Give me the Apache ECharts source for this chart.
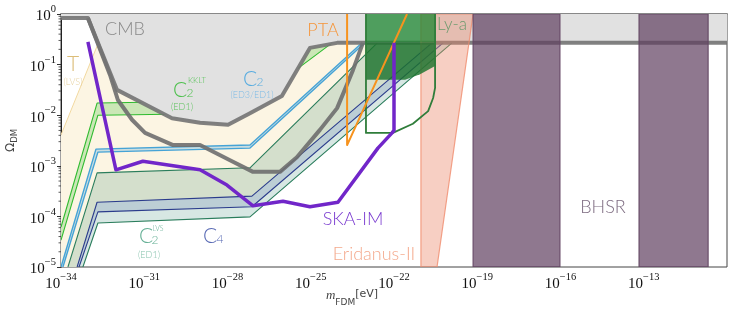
<!DOCTYPE html>
<html><head><meta charset="utf-8">
<script src="https://cdn.jsdelivr.net/npm/echarts@6/dist/echarts.min.js"></script>
<style>html,body{margin:0;padding:0;background:#fff}#c{width:747px;height:318px}</style>
</head><body><div id="c"></div>
<script>
// All points are [log10(m_FDM / eV), log10(Omega_DM)]; the axes are drawn in decades.
const xTicks = [-34, -31, -28, -25, -22, -19, -16, -13, -10];
const yTicks = [-5, -4, -3, -2, -1, 0];

const cmbEdge = [[-34,-0.08],[-33.03,-0.08],[-31.98,-1.50],[-30.0,-2.06],[-28.99,-2.15],[-27.98,-2.19],[-27.19,-1.96],[-26.04,-1.62],[-25.03,-0.67],[-24.05,-0.57],[-10,-0.57]];
const cmbLower = [[-33.03,-0.08],[-32.23,-1.21],[-31.95,-1.70],[-31.44,-2.09],[-30.97,-2.35],[-29.96,-2.59],[-28.99,-2.59],[-27.91,-2.89],[-27.08,-3.12],[-26.11,-3.12],[-25.50,-2.83],[-24.67,-2.29],[-24.05,-1.86],[-23.48,-1.11],[-23.12,-0.57]];
const tLvsLine = [[-34,-2.39],[-32.66,-0.58]];

const kkltUpper = [[-34,-4.21],[-32.70,-1.76],[-28.09,-1.72],[-24.85,-0.57]];
const kkltLower = [[-34,-4.47],[-32.67,-2.00],[-27.62,-1.96],[-24.23,-0.57]];
const c2Upper = [[-34,-5.0],[-32.74,-2.67],[-27.19,-2.59],[-23.15,-0.57]];
const c2Lower = [[-33.93,-5.0],[-32.67,-2.73],[-27.19,-2.65],[-23.05,-0.57]];
const lvsUpper = [[-33.75,-5],[-32.70,-3.14],[-27.19,-3.04],[-22.6,-0.57]];
const c4Upper = [[-33.42,-5],[-32.70,-3.72],[-27.12,-3.60],[-20.63,-0.57]];
const c4Lower = [[-33.35,-5],[-32.67,-3.91],[-27.12,-3.81],[-20.23,-0.57]];
const lvsLower = [[-33.21,-5],[-32.67,-4.13],[-27.19,-4.01],[-19.91,-0.57]];

const skaIm = [[-33.03,-0.55],[-32.02,-3.08],[-31.05,-2.91],[-28.99,-3.08],[-28.02,-3.38],[-27.08,-3.79],[-26.0,-3.70],[-25.03,-3.81],[-24.02,-3.72],[-22.58,-2.65],[-22.07,-2.35],[-22.0,-2.30],[-22.0,-0.57]];
const pta = [[-23.69,0],[-23.69,-2.59],[-21.53,0]];
const lyaOutline = [[-23.01,0],[-23.01,-2.35],[-22.04,-2.35],[-21.32,-2.17],[-20.77,-1.92],[-20.59,-1.66],[-20.52,-1.46],[-20.52,0]];
const lyaFillTop = [[-23.01,0],[-23.01,-0.57],[-20.52,-0.57],[-20.52,0]];
const lyaFillLow = [[-23.01,-0.57],[-23.01,-1.30],[-21.60,-1.30],[-21.06,-1.19],[-20.52,-1.03],[-20.52,-0.57]];
const eridanus = [[-21.03,0],[-19.15,0],[-20.45,-5],[-21.03,-5]];
const bhsr1 = [[-19.15,0],[-16.02,0],[-16.02,-5],[-19.15,-5]];
const bhsr2 = [[-13.17,0],[-10.68,0],[-10.68,-5],[-13.17,-5]];

function shape(name, pts, kind, style, z) {
  return {
    name: name, type: 'custom', coordinateSystem: 'cartesian2d', z: z, silent: true, clip: true,
    data: [pts[0]],
    renderItem: function (params, api) {
      return { type: kind, shape: { points: pts.map(p => api.coord(p)) }, style: style };
    }
  };
}
const band = (u, l) => u.concat(l.slice().reverse());
const line = (stroke, w, extra) => Object.assign({ fill: null, stroke: stroke, lineWidth: w, lineJoin: 'round' }, extra || {});

const creamPoly = [tLvsLine[0], tLvsLine[1]].concat(cmbEdge.slice(2, 10)).concat([[-20.63,-0.57],[-27.12,-3.60],[-32.70,-3.72],[-33.42,-5],[-34,-5]]);
const cmbPoly = cmbEdge.concat([[-10,0],[-34,0]]);

const minorY = [];
for (let e = -5; e < 0; e++) for (let k = 2; k <= 9; k++) minorY.push([-34, e + Math.log10(k)]);

const supFmt = v => { const e = Math.round(v); return '{b|10}{s|' + (e < 0 ? '\u2212' : '') + Math.abs(e) + '}'; };
const tickRich = {
  b: { fontFamily: 'Liberation Serif', fontSize: 15, color: '#111', lineHeight: 20, verticalAlign: 'bottom' },
  s: { fontFamily: 'Liberation Serif', fontSize: 10.5, color: '#111', lineHeight: 11, verticalAlign: 'top' }
};

const series = [
  shape('T (LVS)', creamPoly, 'polygon', { fill: '#fcf5e3' }, 1),
  shape('C2 LVS fill', band(lvsUpper, lvsLower), 'polygon', { fill: 'rgba(40,125,105,0.19)' }, 2),
  shape('C4 fill', band(c4Upper, c4Lower), 'polygon', { fill: 'rgba(50,75,140,0.16)' }, 2),
  shape('C2 fill', band(c2Upper, c2Lower), 'polygon', { fill: 'rgba(90,170,220,0.3)' }, 2),
  shape('KKLT fill', band(kkltUpper, kkltLower), 'polygon', { fill: 'rgba(90,200,80,0.3)' }, 2),
  shape('T line', tLvsLine, 'polyline', line('#f2d9a0', 1), 3),
  shape('lvsU', lvsUpper, 'polyline', line('#2a7d5c', 1.1), 3),
  shape('lvsL', lvsLower, 'polyline', line('#2a7d5c', 1.1), 3),
  shape('c4U', c4Upper, 'polyline', line('#2b3c8c', 1.1), 3),
  shape('c4L', c4Lower, 'polyline', line('#2b3c8c', 1.1), 3),
  shape('c2U', c2Upper, 'polyline', line('#45a3d6', 1.4), 3),
  shape('c2L', c2Lower, 'polyline', line('#45a3d6', 1.4), 3),
  shape('kkltU', kkltUpper, 'polyline', line('#2fbb2f', 1.1), 3),
  shape('kkltL', kkltLower, 'polyline', line('#2fbb2f', 1.1), 3),
  shape('CMB', cmbPoly, 'polygon', { fill: '#e1e1e1' }, 4),
  shape('CMB lower', cmbLower, 'polyline', line('rgba(110,110,110,0.9)', 4), 5),
  shape('CMB edge', cmbEdge, 'polyline', line('rgba(115,115,115,0.9)', 4), 5),
  shape('Eridanus-II', eridanus, 'polygon', { fill: 'rgba(235,135,105,0.4)', stroke: 'rgba(240,140,110,0.8)', lineWidth: 1.2 }, 6),
  shape('Ly-a fill', lyaFillTop, 'polygon', { fill: 'rgba(30,135,50,0.75)' }, 6),
  shape('Ly-a fill low', lyaFillLow, 'polygon', { fill: 'rgba(28,115,45,0.82)' }, 6),
  shape('BHSR1', bhsr1, 'polygon', { fill: 'rgba(95,62,95,0.7)', stroke: 'rgba(100,70,100,0.9)', lineWidth: 1.2 }, 6),
  shape('BHSR2', bhsr2, 'polygon', { fill: 'rgba(95,62,95,0.7)', stroke: 'rgba(100,70,100,0.9)', lineWidth: 1.2 }, 6),
  shape('Ly-a outline', lyaOutline, 'polyline', line('#2f7d3a', 1.8), 7),
  shape('PTA', pta, 'polyline', line('#f7931e', 2), 7),
  shape('SKA-IM', skaIm, 'polyline', line('#7126c9', 3.5), 8),
  {
    type: 'custom', name: 'yminor', coordinateSystem: 'cartesian2d', z: 9, silent: true, clip: false,
    data: minorY,
    renderItem: function (params, api) {
      const c = api.coord([api.value(0), api.value(1)]);
      return { type: 'line', shape: { x1: c[0] - 2.5, y1: c[1], x2: c[0], y2: c[1] }, style: { stroke: '#333', lineWidth: 0.8 } };
    }
  }
];

const T = (x, y, text, size, color, weight) => ({
  type: 'text', x: x, y: y, z: 100, silent: true,
  style: { text: text, fill: color, font: (weight || 300) + ' ' + size + 'px Lato', textAlign: 'center', textVerticalAlign: 'middle', align: 'center', verticalAlign: 'middle' }
});

const texts = [
  T(125, 29, 'CMB', 18, '#8a8a8a'),
  T(73, 64, 'T', 21, '#dcbd78'),
  T(73, 82, '(LVS)', 9, '#e6cf9a'),
  T(180, 90, 'C', 21, '#4dc04d'), T(190, 93, '2', 12, '#4dc04d'), T(197, 80, 'KKLT', 8, '#4dc04d'), T(182, 107, '(ED1)', 9, '#5cc25c'),
  T(250, 79, 'C', 21, '#58ace0'), T(260, 82, '2', 12, '#58ace0'), T(252, 95, '(ED3/ED1)', 9, '#7dbbe6'),
  T(323, 30, 'PTA', 18, '#f5953a'),
  T(452, 25, 'Ly-a', 17, '#6e9a6e'),
  T(353, 219, 'SKA-IM', 18, '#7a3bd0'),
  T(374, 254, 'Eridanus-II', 18, '#f4a98c'),
  T(603, 207, 'BHSR', 18, '#7d6b80'),
  T(146, 236, 'C', 21, '#66b096'), T(155, 240, '2', 12, '#66b096'), T(158, 229, 'LVS', 7, '#66b096'), T(149, 255, '(ED1)', 9, '#86c2ac'),
  T(210, 236, 'C', 21, '#5a6bb5'), T(220, 239, '4', 12, '#5a6bb5'),
  {
    type: 'text', x: 352, y: 298, z: 100, silent: true,
    style: {
      text: '{i|m}{s|FDM}{n|[eV]}', textAlign: 'center', textVerticalAlign: 'middle', align: 'center', verticalAlign: 'middle',
      rich: {
        i: { fontFamily: 'Liberation Serif', fontStyle: 'italic', fontSize: 13, fill: '#444', color: '#444', lineHeight: 18, verticalAlign: 'top' },
        s: { fontFamily: 'DejaVu Sans', fontSize: 9, fill: '#444', color: '#444', lineHeight: 11, verticalAlign: 'bottom' },
        n: { fontFamily: 'DejaVu Sans', fontSize: 11, fill: '#444', color: '#444', lineHeight: 18, verticalAlign: 'top' }
      }
    }
  }
];

const chart = echarts.init(document.getElementById('c'), null, { renderer: 'canvas' });
chart.setOption({
  animation: false,
  grid: { left: 61, right: 20, top: 14, bottom: 51, show: true, borderColor: '#444', borderWidth: 1, backgroundColor: 'transparent', containLabel: false, outerBoundsMode: 'none' },
  xAxis: {
    type: 'value', min: xTicks[0], max: xTicks[xTicks.length - 1], interval: 3,
    axisLine: { lineStyle: { color: '#888', width: 2 } },
    axisTick: { length: 4, lineStyle: { color: '#333' } },
    splitLine: { show: false },
    axisLabel: { formatter: supFmt, rich: tickRich, margin: 5, showMaxLabel: false }
  },
  yAxis: {
    type: 'value', min: yTicks[0], max: yTicks[yTicks.length - 1], interval: 1,
    axisLine: { lineStyle: { color: '#222', width: 1 } },
    axisTick: { length: 4, lineStyle: { color: '#333' } },
    splitLine: { show: false },
    axisLabel: { formatter: supFmt, rich: tickRich, margin: 5 },
    name: '{o|\u03a9}{s|DM}', nameLocation: 'middle', nameGap: 36, nameRotate: 90,
    nameTextStyle: { rich: {
      o: { fontFamily: 'DejaVu Sans', fontSize: 12, color: '#444', lineHeight: 16 },
      s: { fontFamily: 'DejaVu Sans', fontSize: 8.5, color: '#444', lineHeight: 16, padding: [7, 0, 0, 0] }
    } }
  },
  series: series,
  graphic: texts
});
</script></body></html>
